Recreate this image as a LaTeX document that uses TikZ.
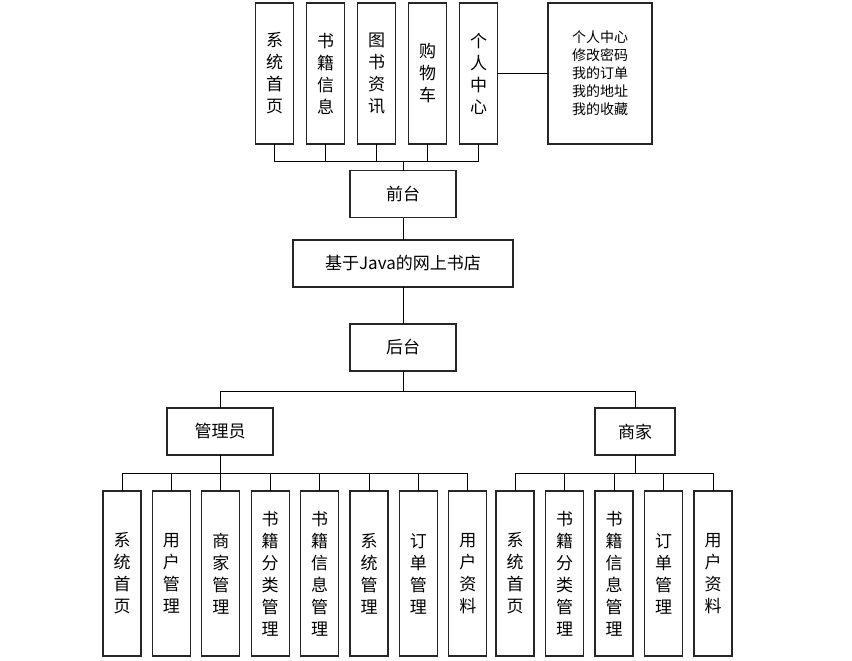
\documentclass[tikz,border=0pt]{standalone}
\usepackage{fontspec}
\newfontfamily\cjk{Noto Sans CJK SC}
\usetikzlibrary{positioning}

\begin{document}
\begin{tikzpicture}[x=1pt,y=-1pt,node distance=13.5pt,
  every node/.style={font=\cjk\fontsize{17}{22}\selectfont,outer sep=0pt},
  box/.style={draw=black!85,line width=1.2pt,inner sep=0pt,minimum height=47pt,align=center},
  top/.style={draw=black!85,line width=1.2pt,inner sep=0pt,minimum width=37.5pt,
              minimum height=141pt,align=center},
  col/.style={draw=black!85,line width=1.2pt,inner sep=0pt,minimum width=38pt,
              minimum height=165pt,align=center},
  ln/.style={black,line width=1pt}]
\useasboundingbox (0,0) rectangle (852,661);

% front end
\node[top] (t1) at (274.5,73.5) {系\\统\\首\\页};
\node[top,right=of t1] (t2) {书\\籍\\信\\息};
\node[top,right=of t2] (t3) {图\\书\\资\\讯};
\node[top,right=of t3] (t4) {购\\物\\车};
\node[top,right=of t4] (t5) {个\\人\\中\\心};
\node[top,minimum width=104pt,font=\cjk\fontsize{14}{18}\selectfont] (t6) at (600,73.5)
  {个人中心\\修改密码\\我的订单\\我的地址\\我的收藏};

\node[box,minimum width=106pt] (front) at (403,194) {前台};
\node[box,minimum width=220pt] (root) at (403,263.5) {基于Java的网上书店};
\node[box,minimum width=106pt] (back) at (403,347.5) {后台};

% back end
\node[box,minimum width=106pt] (admin) at (220,431.5) {管理员};
\node[box,minimum width=80pt] (shop) at (635,431.5) {商家};

\node[col] (a1) at (122,573.5) {系\\统\\首\\页};
\node[col,right=11.4pt of a1] (a2) {用\\户\\管\\理};
\node[col,right=11.4pt of a2] (a3) {商\\家\\管\\理};
\node[col,right=11.4pt of a3] (a4) {书\\籍\\分\\类\\管\\理};
\node[col,right=11.4pt of a4] (a5) {书\\籍\\信\\息\\管\\理};
\node[col,right=11.4pt of a5] (a6) {系\\统\\管\\理};
\node[col,right=11.4pt of a6] (a7) {订\\单\\管\\理};
\node[col,right=11.4pt of a7] (a8) {用\\户\\资\\料};

\node[col] (m1) at (515,573.5) {系\\统\\首\\页};
\node[col,right=11.5pt of m1] (m2) {书\\籍\\分\\类\\管\\理};
\node[col,right=11.5pt of m2] (m3) {书\\籍\\信\\息\\管\\理};
\node[col,right=11.5pt of m3] (m4) {订\\单\\管\\理};
\node[col,right=11.5pt of m4] (m5) {用\\户\\资\\料};

\draw[ln] (front.north) -- ++(0,-9) coordinate (fbus);
\foreach \n in {t1,t2,t3,t4,t5}
  \draw[ln] (\n.south) |- (fbus);
\draw[ln] (t5) -- (t6);
\draw[ln] (front) -- (root);
\draw[ln] (root) -- (back);
\draw[ln] (back.south) -- ++(0,20) coordinate (bbus);
\draw[ln] (admin.north) |- (bbus);
\draw[ln] (shop.north) |- (bbus);
\draw[ln] (admin.south) -- ++(0,18) coordinate (abus);
\foreach \n in {a1,a2,a3,a4,a5,a6,a7,a8}
  \draw[ln] (\n.north) |- (abus);
\draw[ln] (shop.south) -- ++(0,18) coordinate (mbus);
\foreach \n in {m1,m2,m3,m4,m5}
  \draw[ln] (\n.north) |- (mbus);
\end{tikzpicture}
\end{document}
